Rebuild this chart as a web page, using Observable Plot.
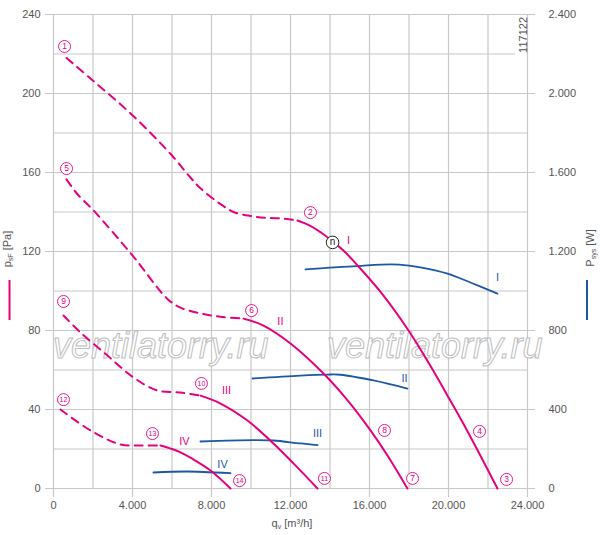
<!DOCTYPE html>
<html><head><meta charset="utf-8">
<script src="https://cdn.jsdelivr.net/npm/d3@7"></script>
<script src="https://cdn.jsdelivr.net/npm/@observablehq/plot@0.6"></script>
<style>body{margin:0;background:#fff}</style>
</head><body><div id="chart"></div>
<script>
// ---- data ----
const xTicks = [0, 4000, 8000, 12000, 16000, 20000, 24000];
const xGrid = [0, 2000, 4000, 6000, 8000, 10000, 12000, 14000, 16000, 18000, 20000, 22000, 24000];
const yTicks = [0, 40, 80, 120, 160, 200, 240];
const yGrid = [0, 20, 40, 60, 80, 100, 120, 140, 160, 180, 200, 220, 240];
const wTicks = [0, 400, 800, 1200, 1600, 2000, 2400];

// pressure curves (q in m3/h, p in Pa): dashed = outside operating range
const q1d = [658, 2000, 4000, 6000, 6886, 7440, 8456, 9114, 9975, 10835, 11650, 12350];
const p1d = [218, 206.5, 189, 168.6, 158, 152, 144, 140, 138, 137, 136.7, 135.7];
const q1s = [12350, 13000, 13770, 14130, 14680, 15390, 16560, 17975, 19000, 19950, 20960, 22480];
const p1s = [135.7, 133, 128, 125, 120.5, 113, 99.5, 80, 63.5, 47, 29, 0];

const q2d = [658, 1215, 2025, 4000, 5770, 6430, 7443, 8456, 9620];
const p2d = [156.5, 149, 140.8, 118, 96, 91.6, 88.6, 87, 86];
const q2s = [9620, 10630, 12000, 13670, 14890, 16050, 16910, 17920];
const p2s = [86, 82.5, 73.4, 58.2, 44.6, 29.4, 16.7, 0];

const q3d = [506, 1367, 2734, 4050, 5265, 6430, 7443];
const p3d = [87.6, 79, 67.3, 56.2, 49.6, 48.6, 47];
const q3s = [7443, 8456, 9820, 11140, 12150, 13370];
const p3s = [47, 43, 34.4, 22.8, 12.7, 0];

const q4d = [354, 1873, 3390, 4560, 5418];
const p4d = [40, 29.4, 22.3, 21.8, 21.8];
const q4s = [5418, 6000, 6430, 7000, 7950, 8962];
const p4s = [21.8, 20, 18.3, 15.2, 9.1, 0];

// power curves (W)
const qP1 = [12760, 14000, 15390, 16560, 17500, 18580, 19950, 21110, 22480];
const wP1 = [1109, 1118, 1126, 1134, 1134, 1120, 1088, 1043, 987];
const qP2 = [10076, 12500, 13870, 14530, 16200, 17920];
const wP2 = [557, 572, 577, 576, 547, 506];
const qP3 = [7443, 10127, 11140, 12500, 13370];
const wP3 = [238, 245, 243, 228, 220];
const qP4 = [5060, 6780, 8962];
const wP4 = [81, 86, 78];

// labels
const romans = ["I", "II", "III", "IV"];
const romanPinkQ = [14940, 11490, 8760, 6630];
const romanPinkP = [125.6, 84.6, 49.6, 23.8];
const romanBlueQ = [22480, 17770, 13370, 8560];
const romanBlueP = [106.8, 55.7, 27.8, 12.2];

const circNums = ["1","2","3","4","5","6","7","8","9","10","11","12","13","14"];
const circQ = [560, 13010, 22940, 21570, 660, 10030, 18180, 16760, 506, 7490, 13720, 506, 5010, 9420];
const circP = [223.8, 139.7, 4.6, 28.9, 162, 90.1, 5.1, 29.4, 94.7, 53.2, 5.1, 45, 27.8, 4];
const opQ = [14130], opP = [124.6], opText = ["n"];

// ---- styling ----
const PINK = "#e5007e", BLUE = "#1c58a4", GRID = "#c8c8c8", TXT = "#555";
const FONT = "Liberation Sans, Arial, sans-serif";
const fmt = d3.formatLocale({decimal: ",", thousands: ".", grouping: [3], currency: ["", ""]}).format(",");
const pts = (qs, ps) => qs.map((q, i) => ({q, p: ps[i]}));
const ptsW = (qs, ws) => qs.map((q, i) => ({q, p: ws[i] / 10}));

function watermark() {
  const g = d3.create("svg:g");
  for (const x0 of [53, 327]) {
    g.append("text").attr("x", x0).attr("y", 358)
      .attr("text-anchor", "start")
      .attr("font-size", 36).attr("font-style", "italic")
      .attr("font-family", FONT)
      .attr("fill", "white").attr("stroke", "#bdbdbd").attr("stroke-width", 1)
      .text("ventilatorry.ru");
  }
  return g.node();
}

const single = circNums.map((d, i) => i).filter(i => circNums[i].length === 1);
const double = circNums.map((d, i) => i).filter(i => circNums[i].length > 1);
const C = "catmull-rom";

const plot = Plot.plot({
  width: 600, height: 535,
  marginLeft: 53, marginRight: 73, marginTop: 14, marginBottom: 47,
  style: {fontFamily: FONT, fontSize: "11px", color: TXT, background: "white", overflow: "visible"},
  x: {domain: [0, 24000], label: null},
  y: {domain: [0, 240], label: null},
  marks: [
    Plot.ruleX(xGrid, {y1: 0, y2: 240, stroke: GRID, strokeWidth: 1.2, strokeOpacity: 1}),
    Plot.ruleX(xTicks, {y1: -4.6, y2: 0, stroke: GRID, strokeWidth: 1.2}),
    Plot.ruleY(yGrid, {x1: 0, x2: 24000, stroke: GRID, strokeWidth: 1.2}),
    Plot.ruleY(yTicks, {x1: -405, x2: 24410, stroke: GRID, strokeWidth: 1.2}),
    Plot.axisX({ticks: xTicks, tickSize: 0, tickPadding: 13, tickFormat: fmt, fill: TXT}),
    Plot.axisY({anchor: "left", ticks: yTicks, tickSize: 0, tickPadding: 13, tickFormat: d => fmt(d), fill: TXT}),
    Plot.axisY({anchor: "right", ticks: wTicks.map(w => w / 10), tickSize: 0, tickPadding: 21, tickFormat: d => fmt(d * 10), fill: TXT}),
    watermark,
    // power
    Plot.line(ptsW(qP1, wP1), {x: "q", y: "p", stroke: BLUE, strokeWidth: 1.8, curve: C}),
    Plot.line(ptsW(qP2, wP2), {x: "q", y: "p", stroke: BLUE, strokeWidth: 1.8, curve: C}),
    Plot.line(ptsW(qP3, wP3), {x: "q", y: "p", stroke: BLUE, strokeWidth: 1.8, curve: C}),
    Plot.line(ptsW(qP4, wP4), {x: "q", y: "p", stroke: BLUE, strokeWidth: 1.8, curve: C}),
    // pressure
    ...[[q1d, p1d, q1s, p1s], [q2d, p2d, q2s, p2s], [q3d, p3d, q3s, p3s], [q4d, p4d, q4s, p4s]].flatMap(([qd, pd, qs, ps]) => [
      Plot.line(pts(qd, pd), {x: "q", y: "p", stroke: PINK, strokeWidth: 2, strokeDasharray: "8,6", curve: C}),
      Plot.line(pts(qs, ps), {x: "q", y: "p", stroke: PINK, strokeWidth: 2, curve: C})
    ]),
    // roman labels
    Plot.text(romans, {x: (d, i) => romanPinkQ[i], y: (d, i) => romanPinkP[i], text: d => d, fill: PINK, fontSize: 11}),
    Plot.text(romans, {x: (d, i) => romanBlueQ[i], y: (d, i) => romanBlueP[i], text: d => d, fill: BLUE, fontSize: 11}),
    // circled numbers
    Plot.dot(circNums, {x: (d, i) => circQ[i], y: (d, i) => circP[i], r: 6, stroke: PINK, fill: "white", strokeWidth: 0.9}),
    Plot.text(single, {x: i => circQ[i], y: i => circP[i], text: i => circNums[i], fill: PINK, fontSize: 8.5}),
    Plot.text(double, {x: i => circQ[i], y: i => circP[i], text: i => circNums[i], fill: PINK, fontSize: 7, letterSpacing: "-0.5px"}),
    // operating point n
    Plot.dot(opText, {x: (d, i) => opQ[i], y: (d, i) => opP[i], r: 6.3, stroke: "#222", fill: "white", strokeWidth: 1}),
    Plot.text(opText, {x: (d, i) => opQ[i], y: (d, i) => opP[i], text: d => d, fill: "#222", fontSize: 10, dy: -1})
  ]
});

const svg = d3.select(plot);
// left axis label p_sF [Pa]
const lt = svg.append("text").attr("transform", "translate(11,249) rotate(-90)")
  .attr("text-anchor", "middle").attr("fill", TXT).attr("font-size", 11).attr("font-family", FONT);
lt.append("tspan").text("p");
lt.append("tspan").attr("font-size", 7).attr("dy", 2).text("sF");
lt.append("tspan").attr("dy", -2).text(" [Pa]");
svg.append("line").attr("x1", 9.5).attr("x2", 9.5).attr("y1", 280).attr("y2", 320).attr("stroke", PINK).attr("stroke-width", 2);
// right axis label P_sys [W]
const rt = svg.append("text").attr("transform", "translate(594,248) rotate(-90)")
  .attr("text-anchor", "middle").attr("fill", TXT).attr("font-size", 11).attr("font-family", FONT);
rt.append("tspan").text("P");
rt.append("tspan").attr("font-size", 7).attr("dy", 2).text("sys");
rt.append("tspan").attr("dy", -2).text(" [W]");
svg.append("line").attr("x1", 587).attr("x2", 587).attr("y1", 280).attr("y2", 320).attr("stroke", BLUE).attr("stroke-width", 2);
// bottom label q_v [m³/h]
const bt = svg.append("text").attr("x", 292).attr("y", 527)
  .attr("text-anchor", "middle").attr("fill", TXT).attr("font-size", 11).attr("font-family", FONT);
bt.append("tspan").text("q");
bt.append("tspan").attr("font-size", 7).attr("dy", 2).text("v");
bt.append("tspan").attr("dy", -2).text(" [m³/h]");
// id number
svg.append("rect").attr("x", 515).attr("y", 15).attr("width", 11.5).attr("height", 41).attr("fill", "white");
svg.append("text").attr("transform", "translate(526.5,17) rotate(-90)")
  .attr("text-anchor", "end").attr("fill", TXT).attr("font-size", 11).attr("font-family", FONT).text("117122");

document.getElementById("chart").appendChild(plot);
</script>
</body></html>
